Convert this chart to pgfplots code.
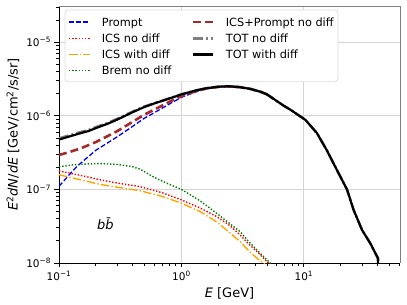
\documentclass[border=0pt]{standalone}
\usepackage{fontspec}
\setmainfont{DejaVu Sans}
\usepackage{pgfplots}
\pgfplotsset{compat=1.18}
\definecolor{gridc}{HTML}{D4D4D4}
\definecolor{legc}{HTML}{DCDCDC}
\definecolor{mplblue}{RGB}{0,0,255}
\definecolor{mplred}{RGB}{255,0,0}
\definecolor{mplorange}{RGB}{255,165,0}
\definecolor{mplgreen}{RGB}{0,128,0}
\definecolor{mplbrown}{RGB}{165,42,42}
\definecolor{mplgray}{RGB}{128,128,128}
\tikzset{
  sPrompt/.style={mplblue, line width=1.3pt, dash pattern=on 5pt off 2.2pt},
  sICSP/.style={mplbrown, line width=2.6pt, dash pattern=on 8pt off 4pt},
  sICSn/.style={mplred, line width=1.4pt, dash pattern=on 1.4pt off 1.8pt},
  sTOTn/.style={mplgray, line width=2.6pt, dash pattern=on 10pt off 3pt on 2pt off 3pt},
  sICSw/.style={mplorange, line width=1.4pt, dash pattern=on 8.5pt off 2.2pt on 1.4pt off 2.2pt},
  sTOTw/.style={black, line width=2.2pt},
  sBrem/.style={mplgreen, line width=1.4pt, dash pattern=on 1.4pt off 1.8pt},
  legtext/.style={anchor=base west, inner sep=0pt, font=\fontsize{11.3}{13}\selectfont},
}
\begin{document}
\begin{tikzpicture}
\begin{axis}[
  width=341pt, height=257pt, scale only axis,
  xmode=log, ymode=log,
  xmin=0.1, xmax=61, ymin=1e-8, ymax=3.1e-5,
  axis lines*=left,
  axis line style={black, line width=0.8pt},
  xtick={0.1,1,10},
  xticklabels={10\textsuperscript{−1},10\textsuperscript{0},10\textsuperscript{1}},
  ytick={1e-8,1e-7,1e-6,1e-5},
  yticklabels={10\textsuperscript{−8},10\textsuperscript{−7},10\textsuperscript{−6},10\textsuperscript{−5}},
  minor xtick={0.2,0.3,0.4,0.5,0.6,0.7,0.8,0.9,2,3,4,5,6,7,8,9,20,30,40,50,60},
  minor ytick={2e-8,3e-8,4e-8,5e-8,6e-8,7e-8,8e-8,9e-8,2e-7,3e-7,4e-7,5e-7,6e-7,7e-7,8e-7,9e-7,2e-6,3e-6,4e-6,5e-6,6e-6,7e-6,8e-6,9e-6,2e-5,3e-5},
  tick align=outside,
  major tick length=4.5pt, minor tick length=2.6pt,
  every tick/.style={black, line width=0.8pt},
  xmajorgrids, ymajorgrids,
  major grid style={gridc, line width=0.8pt},
  ticklabel style={font=\fontsize{10.5}{12}\selectfont},
  label style={font=\fontsize{13}{15}\selectfont},
  xlabel={\textit{E} [GeV]},
  ylabel={\textit{E}\textsuperscript{2}\textit{dN}/\textit{dE} [GeV/cm\textsuperscript{2}/s/sr]},
  after end axis/.code={
    \draw[mplgray, line width=0.8pt] (rel axis cs:0,1) -- (rel axis cs:1,1) -- (rel axis cs:1,0);
    \coordinate (SW) at (rel axis cs:0,0);
    \coordinate (NE) at (rel axis cs:1,1);
    \coordinate (NW) at (rel axis cs:0,1);
  },
]
% Prompt
\addplot[sPrompt] coordinates {
(0.1,1.1e-7) (0.12,1.55e-7) (0.14,2.05e-7) (0.17,2.7e-7) (0.2,3.4e-7) (0.25,4.3e-7)
(0.3,5.2e-7) (0.4,7.2e-7) (0.5,9.3e-7) (0.6,1.1e-6) (0.8,1.45e-6) (1,1.78e-6)
(1.3,2.1e-6) (1.6,2.32e-6) (2,2.45e-6) (2.4,2.5e-6) (3,2.45e-6) (3.65,2.32e-6)
(4.5,2.1e-6) (5,1.95e-6) (5.65,1.7e-6)};
% ICS+Prompt no diff
\addplot[sICSP] coordinates {
(0.1,2.93e-7) (0.12,3.2e-7) (0.15,3.6e-7) (0.2,4.4e-7) (0.25,5.3e-7) (0.3,6.2e-7)
(0.4,8.3e-7) (0.5,1.04e-6) (0.6,1.21e-6) (0.8,1.55e-6) (1,1.85e-6) (1.3,2.15e-6)
(1.6,2.35e-6) (2,2.47e-6) (2.4,2.5e-6) (3,2.45e-6) (3.65,2.32e-6)
(4.5,2.1e-6) (5,1.95e-6) (5.65,1.7e-6)};
% ICS no diff
\addplot[sICSn] coordinates {
(0.1,1.78e-7) (0.15,1.55e-7) (0.216,1.35e-7) (0.3,1.22e-7) (0.459,1.09e-7) (0.7,9e-8)
(1,7.2e-8) (1.42,5.6e-8) (1.95,4.25e-8) (2.5,3.2e-8) (3.02,2.4e-8) (3.5,1.85e-8)
(4.14,1.43e-8) (5.14,1.0e-8) (6,7.5e-9)};
% ICS with diff
\addplot[sICSw] coordinates {
(0.1,1.58e-7) (0.15,1.35e-7) (0.216,1.17e-7) (0.3,1.07e-7) (0.459,9.6e-8) (0.7,8e-8)
(1,6.5e-8) (1.42,5.0e-8) (1.95,3.6e-8) (2.5,2.55e-8) (3.02,1.95e-8) (3.5,1.5e-8)
(4.14,1.16e-8) (4.7,1.0e-8) (5.5,7.5e-9)};
% Brem no diff
\addplot[sBrem] coordinates {
(0.1,2.03e-7) (0.13,2.15e-7) (0.17,2.22e-7) (0.22,2.24e-7) (0.3,2.18e-7) (0.4,2.03e-7)
(0.46,1.88e-7) (0.55,1.58e-7) (0.63,1.4e-7) (0.8,1.17e-7) (1,1.0e-7) (1.42,7.0e-8)
(1.95,4.7e-8) (2.5,3.4e-8) (3.02,2.66e-8) (3.5,2.0e-8) (4.14,1.5e-8) (5.3,1.0e-8) (6,8e-9)};
% TOT no diff
\addplot[sTOTn] coordinates {
(0.1,4.92e-7) (0.12,5.4e-7) (0.15,6.0e-7) (0.174,6.4e-7) (0.2,7.0e-7) (0.25,8.0e-7)
(0.3,9.1e-7) (0.4,1.14e-6) (0.5,1.34e-6) (0.6,1.48e-6) (0.8,1.73e-6) (1,1.96e-6)
(1.3,2.2e-6) (1.6,2.37e-6) (2,2.48e-6) (2.4,2.52e-6) (3,2.45e-6) (3.65,2.32e-6)
(4.5,2.1e-6) (5,1.95e-6) (5.65,1.7e-6) (6.8,1.38e-6) (7.7,1.22e-6) (10.3,8.8e-7)
(12.8,5.8e-7) (15.4,3.4e-7) (18.6,1.84e-7) (22.5,1.0e-7) (25.5,5.25e-8) (29.9,2.8e-8)
(34.9,1.85e-8) (40.3,1.16e-8) (40.4,1e-9)};
% TOT with diff
\addplot[sTOTw] coordinates {
(0.1,4.75e-7) (0.12,5.2e-7) (0.15,5.8e-7) (0.174,6.2e-7) (0.2,6.8e-7) (0.25,7.8e-7)
(0.3,8.9e-7) (0.4,1.12e-6) (0.5,1.32e-6) (0.6,1.47e-6) (0.8,1.72e-6) (1,1.95e-6)
(1.3,2.2e-6) (1.6,2.37e-6) (2,2.48e-6) (2.4,2.52e-6) (3,2.45e-6) (3.65,2.32e-6)
(4.5,2.1e-6) (5,1.95e-6) (5.65,1.7e-6) (6.8,1.38e-6) (7.7,1.22e-6) (10.3,8.8e-7)
(12.8,5.8e-7) (15.4,3.4e-7) (18.6,1.84e-7) (22.5,1.0e-7) (25.5,5.25e-8) (29.9,2.8e-8)
(34.9,1.85e-8) (40.3,1.16e-8) (40.4,1e-9)};
\node[font=\fontsize{13}{15}\selectfont] at (axis cs:0.24,3.4e-8) {\textit{bb̄}};
\end{axis}
% legend box (drawn over the curves, as a legend)
\begin{scope}[shift={(NW)}]
  \draw[legc, fill=white, rounded corners=3pt, line width=0.8pt] (6pt,-4pt) rectangle (279pt,-75.7pt);
  \draw[sPrompt] (10pt,-16pt) -- (31pt,-16pt);
  \node[legtext] at (42.7pt,-20.1pt) {Prompt};
  \draw[sICSn] (10pt,-32.3pt) -- (31pt,-32.3pt);
  \node[legtext] at (42.7pt,-36.4pt) {ICS no diff};
  \draw[sICSw] (10pt,-48.5pt) -- (31pt,-48.5pt);
  \node[legtext] at (42.7pt,-52.6pt) {ICS with diff};
  \draw[sBrem] (10pt,-64.7pt) -- (31pt,-64.7pt);
  \node[legtext] at (42.7pt,-68.8pt) {Brem no diff};
  \draw[sICSP] (134pt,-16pt) -- (154pt,-16pt);
  \node[legtext] at (166.7pt,-20.1pt) {ICS+Prompt no diff};
  \draw[sTOTn] (134pt,-32.3pt) -- (154pt,-32.3pt);
  \node[legtext] at (166.7pt,-36.4pt) {TOT no diff};
  \draw[sTOTw] (134pt,-48.5pt) -- (154pt,-48.5pt);
  \node[legtext] at (166.7pt,-52.6pt) {TOT with diff};
\end{scope}
\path[use as bounding box] ([shift={(-59pt,-42pt)}]SW) rectangle ([shift={(7pt,6pt)}]NE);
\end{tikzpicture}
\end{document}
